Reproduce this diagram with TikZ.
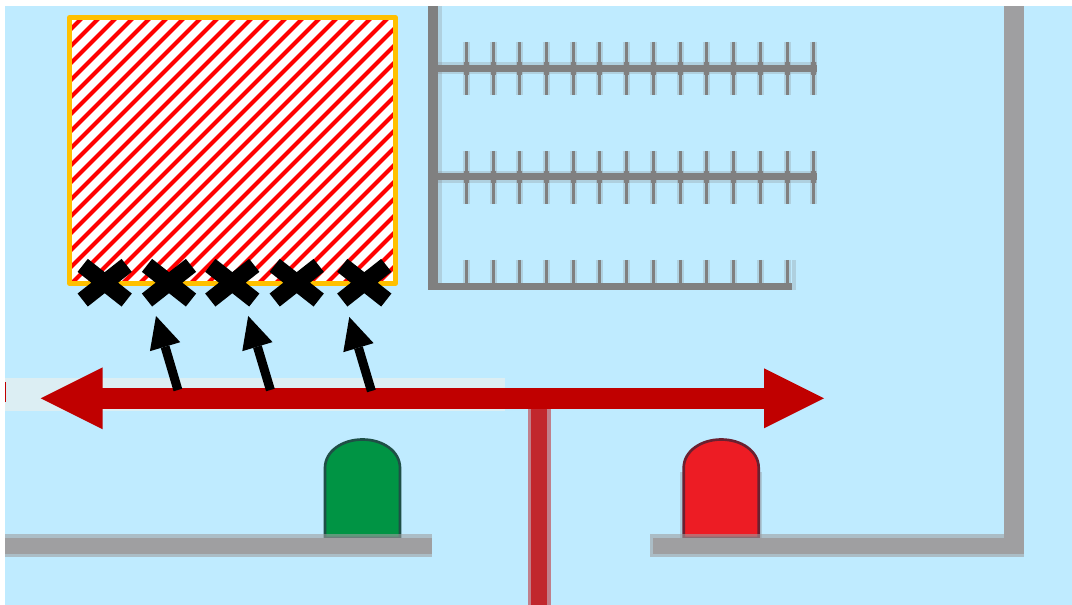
\documentclass[tikz,border=0pt]{standalone}
\usepackage{tikz}
\usetikzlibrary{arrows.meta,shapes.misc}

\definecolor{sky}{HTML}{BFEBFF}
\definecolor{wallgray}{HTML}{9F9FA1}
\definecolor{combgray}{HTML}{808080}
\definecolor{barred}{HTML}{C00000}
\definecolor{stemred}{HTML}{C1272D}
\definecolor{hatchred}{HTML}{FF0000}
\definecolor{frameamber}{HTML}{FFC000}
\definecolor{lampgreen}{HTML}{009444}
\definecolor{lampgreenedge}{HTML}{1F4F46}
\definecolor{lampred}{HTML}{ED1C24}
\definecolor{lamprededge}{HTML}{6B2030}
\definecolor{palestrip}{HTML}{DCEEF3}

\newcommand{\lampshape}{(-37.5,538) -- (-37.5,468) .. controls (-37.5,451) and (-20,439.5) .. (0,439.5)
  .. controls (20,439.5) and (37.5,451) .. (37.5,468) -- (37.5,538) -- cycle}

\begin{document}
\begin{tikzpicture}[x=.75pt,y=-.75pt,line cap=butt]
  \tikzstyle{cross}=[cross out,draw=black,line width=12.4pt,minimum width=33pt,minimum height=26pt,inner sep=0pt,outer sep=0pt]
  \tikzstyle{push}=[-{Triangle[width=23.7pt,length=24pt,line width=0pt]},draw=black,line width=6.75pt]
  \tikzstyle{lamp}=[line width=2pt,line join=round]
  \tikzstyle{fringe}=[fill=wallgray,opacity=.6]
  \tikzstyle{tooth}=[draw=combgray,line width=2.25pt]
  \tikzstyle{toothfringe}=[draw=combgray,line width=5.25pt,opacity=.25]
  \tikzstyle{rail}=[draw=combgray,line width=5.25pt]
  \tikzstyle{railfringe}=[draw=combgray,line width=9pt,opacity=.25]
  \tikzstyle{knot}=[draw=combgray,line width=3.75pt]

  \useasboundingbox (0,0) rectangle (1072,605);
  \fill[white] (0,0) rectangle (1072,605);
  \fill[sky] (5,6) rectangle (1072,605);

  % hatched block
  \fill[white] (69.5,17.5) rectangle (395.3,283.3);
  \begin{scope}
    \clip (69.5,17.5) rectangle (395.3,283.3);
    \foreach \i in {-1,...,35}
      \draw[hatchred,line width=3pt] (-192+17*\i,292) -- ++(290,-290);
  \end{scope}
  \draw[frameamber,line width=3.75pt,line join=round] (69.5,17.5) rectangle (395.3,283.3);

  \node[cross] (x1) at (104.7,282.7) {};
  \node[cross] (x2) at (169,282.7)   {};
  \node[cross] (x3) at (232.3,282.7) {};
  \node[cross] (x4) at (296.7,282.7) {};
  \node[cross] (x5) at (364.3,282.7) {};

  % comb
  \fill[combgray,opacity=.25] (438,6) rectangle (442,290);
  \fill[combgray] (428,6) rectangle (438,290);
  \draw[railfringe] (438,68.5) -- (817,68.5);
  \draw[railfringe] (438,177) -- (817,177);
  \foreach \i in {0,...,13} {
    \draw[toothfringe] (466.3+26.73*\i,42) -- (466.3+26.73*\i,95);
    \draw[tooth] (466.3+26.73*\i,42) -- (466.3+26.73*\i,95);
    \draw[knot] (466.3+26.73*\i,62) -- (466.3+26.73*\i,75);
    \draw[toothfringe] (466.3+26.73*\i,151) -- (466.3+26.73*\i,204);
    \draw[tooth] (466.3+26.73*\i,151) -- (466.3+26.73*\i,204);
    \draw[knot] (466.3+26.73*\i,171) -- (466.3+26.73*\i,183);
  }
  \foreach \i in {0,...,12} {
    \draw[toothfringe] (466.3+26.73*\i,260) -- (466.3+26.73*\i,283);
    \draw[tooth] (466.3+26.73*\i,260) -- (466.3+26.73*\i,283);
  }
  \draw[rail] (438,68.5) -- (817,68.5);
  \draw[rail] (438,177) -- (817,177);
  \draw[rail] (438,286.3) -- (792,286.3);
  \fill[combgray,opacity=.25] (792,260) rectangle (796,290);

  % lamps
  \fill[combgray,opacity=.3] (680,472) rectangle (762,538);
  \draw[lamp,shift={(362.5,0)},fill=lampgreen,draw=lampgreenedge] \lampshape;
  \draw[lamp,shift={(721.2,0)},fill=lampred,draw=lamprededge] \lampshape;

  % floor and wall
  \fill[fringe] (5,534) rectangle (432,557);
  \fill[wallgray] (5,538) rectangle (432,554);
  \fill[fringe] (650,534) rectangle (1024,557);
  \fill[wallgray] (653,538) rectangle (1024,554);
  \fill[wallgray] (1004,6) rectangle (1024,538);

  % stem and bar
  \fill[stemred,opacity=.55] (528,408) rectangle (551,605);
  \fill[stemred] (531,408) rectangle (547,605);
  \fill[palestrip] (5,378) rectangle (505,411);
  \fill[barred] (5,382) rectangle (6,402);

  \coordinate (barleft)  at (40.7,398.3);
  \coordinate (barright) at (824,398.3);
  \coordinate (barstart) at (100,398.3);
  \coordinate (barend)   at (767,398.3);
  \draw[barred,line width=15.4pt] (barstart) -- (barend);
  \draw[{Triangle[width=46.5pt,length=46.5pt,line width=0pt]}-{Triangle[width=45pt,length=45pt,line width=0pt]},draw=barred,fill=barred,line width=15.4pt]
    (barleft) -- (barright);

  \coordinate (t1) at (177.9,390);
  \coordinate (h1) at (156,316);
  \coordinate (t2) at (270.4,390);
  \coordinate (h2) at (248.2,316);
  \coordinate (t3) at (371.4,391);
  \coordinate (h3) at (349.3,317);
  \draw[push] (t1) -- (h1);
  \draw[push] (t2) -- (h2);
  \draw[push] (t3) -- (h3);
\end{tikzpicture}
\end{document}
